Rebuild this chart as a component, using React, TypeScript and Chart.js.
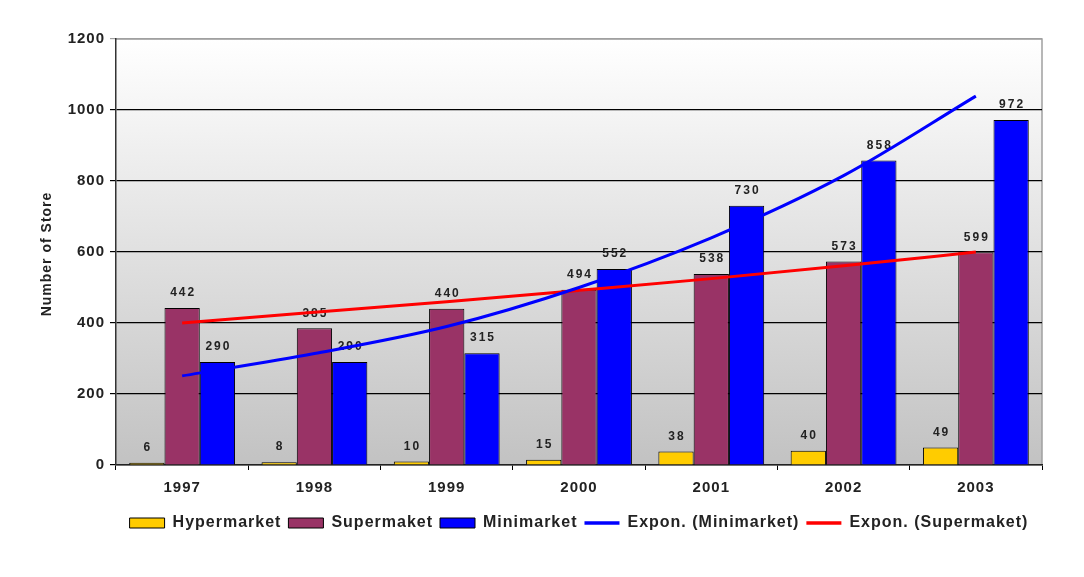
import React, { useEffect, useRef } from "react";
import { Chart, registerables } from "chart.js";

Chart.register(...registerables);

const years = ["1997", "1998", "1999", "2000", "2001", "2002", "2003"];
const hypermarket = [6, 8, 10, 15, 38, 40, 49];
const supermaket = [442, 385, 440, 494, 538, 573, 599];
const minimarket = [290, 290, 315, 552, 730, 858, 972];
const exponMinimarket = [251, 314, 390, 500, 640, 815, 1039];
const exponSupermaket = [400, 430, 460, 492, 525, 561, 600];
const yTicks = [0, 200, 400, 600, 800, 1000, 1200];

const FONT = "'Liberation Sans', Arial, sans-serif";

const spacingPlugin = {
  id: "spacing",
  beforeUpdate(chart: any) {
    chart.ctx.letterSpacing = "1px";
  },
  beforeLayout(chart: any) {
    chart.ctx.letterSpacing = "1px";
  },
  afterLayout(chart: any) {
    // centre the legend under the plot like the reference
    const lg = chart.legend;
    if (lg) {
      const a = chart.chartArea;
      lg.left = a.left;
      lg.right = a.right;
    }
  },
  beforeDraw(chart: any) {
    chart.ctx.letterSpacing = "1px";
  },
};

const bgPlugin = {
  id: "bg",
  beforeDraw(chart: any) {
    const { ctx, chartArea: a } = chart;
    ctx.save();
    const g = ctx.createLinearGradient(0, a.top, 0, a.bottom);
    g.addColorStop(0, "#ffffff");
    g.addColorStop(1, "#c2c2c2");
    ctx.fillStyle = g;
    ctx.fillRect(a.left, a.top, a.right - a.left, a.bottom - a.top);
    ctx.strokeStyle = "#a0a0a0";
    ctx.lineWidth = 1.5;
    ctx.beginPath();
    ctx.moveTo(a.left, a.top);
    ctx.lineTo(a.right, a.top);
    ctx.lineTo(a.right, a.bottom);
    ctx.stroke();
    ctx.restore();
  },
  afterDraw(chart: any) {
    const { ctx, chartArea: a } = chart;
    ctx.save();
    ctx.letterSpacing = "1px";
    ctx.translate(47, (a.top + a.bottom) / 2 + 2);
    ctx.rotate(-Math.PI / 2);
    ctx.font = `bold 14px ${FONT}`;
    ctx.fillStyle = "#222";
    ctx.textAlign = "center";
    ctx.textBaseline = "middle";
    ctx.fillText("Number of Store", 0, 0);
    ctx.restore();
  },
};

const labelPlugin = {
  id: "valueLabels",
  beforeDatasetsDraw(chart: any) {
    const { ctx } = chart;
    ctx.save();
    ctx.letterSpacing = "2px";
    ctx.font = `bold 12px ${FONT}`;
    ctx.fillStyle = "#222";
    ctx.textAlign = "center";
    ctx.textBaseline = "middle";
    chart.data.datasets.forEach((ds: any, i: number) => {
      if (ds.type !== "bar") return;
      const meta = chart.getDatasetMeta(i);
      meta.data.forEach((el: any, j: number) => {
        ctx.fillText(String(ds.data[j]), el.x + 1, el.y - 15);
      });
    });
    ctx.restore();
  },
};

export default function App() {
  const ref = useRef<HTMLCanvasElement | null>(null);

  useEffect(() => {
    document.body.style.margin = "0";
    const canvas = ref.current;
    if (!canvas) return;
    const chart = new Chart(canvas, {
      type: "bar",
      data: {
        labels: years,
        datasets: [
          {
            type: "bar",
            label: "Hypermarket",
            data: hypermarket,
            backgroundColor: "#FFCC00",
            borderColor: "#000",
            borderWidth: 1,
            barPercentage: 1.0,
            categoryPercentage: 0.8,
            order: 1,
          },
          {
            type: "bar",
            label: "Supermaket",
            data: supermaket,
            backgroundColor: "#993366",
            borderColor: "#000",
            borderWidth: 1,
            barPercentage: 1.0,
            categoryPercentage: 0.8,
            order: 1,
          },
          {
            type: "bar",
            label: "Minimarket",
            data: minimarket,
            backgroundColor: "#0000FF",
            borderColor: "#000",
            borderWidth: 1,
            barPercentage: 1.0,
            categoryPercentage: 0.8,
            order: 1,
          },
          {
            type: "line",
            label: "Expon. (Minimarket)",
            data: exponMinimarket,
            borderColor: "#0000FF",
            borderWidth: 3,
            pointRadius: 0,
            cubicInterpolationMode: "monotone",
            fill: false,
            order: 0,
          },
          {
            type: "line",
            label: "Expon. (Supermaket)",
            data: exponSupermaket,
            borderColor: "#FF0000",
            borderWidth: 3,
            pointRadius: 0,
            cubicInterpolationMode: "monotone",
            fill: false,
            order: 0,
          },
        ] as any,
      },
      options: {
        animation: false,
        responsive: true,
        maintainAspectRatio: false,
        layout: { padding: { left: 0, right: 42, top: 39, bottom: 36 } },
        plugins: {
          tooltip: { enabled: false },
          legend: {
            display: true,
            position: "bottom",
            labels: {
              usePointStyle: true,
              pointStyleWidth: 35,
              boxHeight: 10,
              padding: 7,
              color: "#222",
              font: { family: FONT, size: 16, weight: "bold" },
              generateLabels(chart: any) {
                return chart.data.datasets.map((ds: any, i: number) => {
                  const isLine = ds.type === "line";
                  return {
                    text: ds.label,
                    datasetIndex: i,
                    fillStyle: isLine ? ds.borderColor : ds.backgroundColor,
                    strokeStyle: isLine ? ds.borderColor : "#000",
                    lineWidth: isLine ? 3.5 : 1,
                    pointStyle: isLine ? "line" : "rect",
                    fontColor: "#222",
                    hidden: false,
                  };
                });
              },
            },
          },
        },
        scales: {
          x: {
            type: "category",
            offset: true,
            grid: {
              display: true,
              drawOnChartArea: false,
              drawTicks: true,
              tickLength: 5,
              color: "#000",
              offset: true,
            },
            border: { color: "#222", width: 1.5 },
            ticks: {
              color: "#222",
              padding: 9,
              font: { family: FONT, size: 15, weight: "bold" },
            },
            afterFit(scale: any) {
              scale.height = 43;
            },
          },
          y: {
            min: 0,
            max: 1200,
            afterBuildTicks(scale: any) {
              scale.ticks = yTicks.map((v) => ({ value: v }));
            },
            grid: {
              color: (c: any) => (c.tick && c.tick.value === 1200 ? "#a0a0a0" : "#000"),
              lineWidth: 1.2,
              tickLength: 6,
              drawTicks: true,
            },
            border: { color: "#333", width: 1.5 },
            ticks: {
              color: "#222",
              padding: 5,
              font: { family: FONT, size: 15, weight: "bold" },
              callback: (v: any) => String(v),
            },
            afterFit(scale: any) {
              scale.width = 116;
            },
          },
        },
      },
      plugins: [spacingPlugin, bgPlugin, labelPlugin],
    });
    return () => chart.destroy();
  }, []);

  return (
    <div style={{ width: 1084, height: 577, position: "relative" }}>
      <canvas ref={ref} />
    </div>
  );
}
